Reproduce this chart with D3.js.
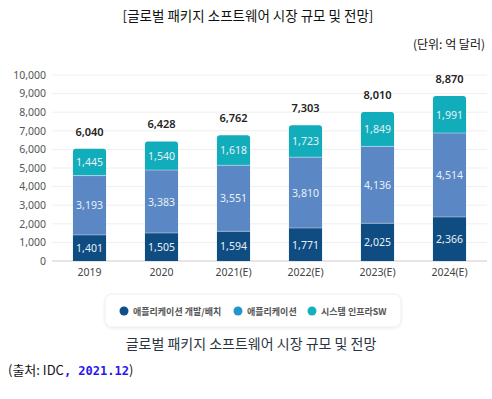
<!DOCTYPE html>
<html>
<head>
<meta charset="utf-8">
<script src="https://cdn.jsdelivr.net/npm/d3@7"></script>
<style>
  body { margin: 0; background: #fff; }
  svg text { font-family: "Noto Sans CJK KR", "Noto Sans", sans-serif; }
</style>
</head>
<body>
<div id="chart-area"></div>
<script>
// data
var years = ["2019", "2020", "2021(E)", "2022(E)", "2023(E)", "2024(E)"];
var appDev = [1401, 1505, 1594, 1771, 2025, 2366];
var apps = [3193, 3383, 3551, 3810, 4136, 4514];
var sysInfra = [1445, 1540, 1618, 1723, 1849, 1991];
var totals = [6040, 6428, 6762, 7303, 8010, 8870];
var seriesNames = ["애플리케이션 개발/배치", "애플리케이션", "시스템 인프라SW"];
var yTicks = [0, 1000, 2000, 3000, 4000, 5000, 6000, 7000, 8000, 9000, 10000];

var barColors = ["#0f4c81", "#5b88c4", "#12adbb"];
var legendColors = ["#0e4f89", "#2196c9", "#14b1bd"];

var W = 492, H = 399;
var svg = d3.select("#chart-area").append("svg")
    .attr("width", W).attr("height", H);

// titles
svg.append("text")
    .attr("x", 248).attr("y", 21)
    .attr("text-anchor", "middle")
    .attr("font-size", "13.5px")
    .attr("fill", "#111")
    .text("[글로벌 패키지 소프트웨어 시장 규모 및 전망]");

svg.append("text")
    .attr("x", 485).attr("y", 49)
    .attr("text-anchor", "end")
    .attr("font-size", "12px")
    .attr("fill", "#111")
    .text("(단위: 억 달러)");

// scales
var x = d3.scaleBand().domain(years).range([53.5, 485.5]).paddingInner(0.54).paddingOuter(0.27);
var y = d3.scaleLinear().domain([0, 10000]).range([261, 75]);

// grid
svg.append("g").selectAll("line")
    .data(yTicks.slice(1))
    .enter().append("line")
    .attr("x1", 52).attr("x2", 487)
    .attr("y1", function(d) { return y(d); })
    .attr("y2", function(d) { return y(d); })
    .attr("stroke", "#efefef");

// y axis
var yAxis = svg.append("g")
    .attr("transform", "translate(52,0)")
    .call(d3.axisLeft(y).tickValues(yTicks).tickSize(0).tickPadding(6).tickFormat(d3.format(",")));
yAxis.select(".domain").remove();
yAxis.selectAll("text").attr("font-size", "10.5px").attr("fill", "#555")
    .style("font-family", "'Noto Sans', sans-serif");

// baseline
svg.append("line")
    .attr("x1", 52).attr("x2", 487)
    .attr("y1", y(0)).attr("y2", y(0))
    .attr("stroke", "#ccc");

// x axis
var xAxis = svg.append("g")
    .attr("transform", "translate(0," + y(0) + ")")
    .call(d3.axisBottom(x).tickSize(0).tickPadding(8));
xAxis.select(".domain").remove();
xAxis.selectAll("text").attr("font-size", "10.5px").attr("fill", "#444")
    .style("font-family", "'Noto Sans', sans-serif");

// stacked data
var rows = years.map(function(yr, i) {
    return { year: yr, a: appDev[i], b: apps[i], c: sysInfra[i], total: totals[i] };
});
var stack = d3.stack().keys(["a", "b", "c"]);
var layers = stack(rows);

var r = 3;
function barPath(d, top) {
    var x0 = x(d.data.year), w = x.bandwidth();
    var y0 = y(d[0]), y1 = y(d[1]);
    if (!top) return "M" + x0 + "," + y0 + "V" + y1 + "H" + (x0 + w) + "V" + y0 + "Z";
    return "M" + x0 + "," + y0 + "V" + (y1 + r) + "Q" + x0 + "," + y1 + " " + (x0 + r) + "," + y1 +
        "H" + (x0 + w - r) + "Q" + (x0 + w) + "," + y1 + " " + (x0 + w) + "," + (y1 + r) +
        "V" + y0 + "Z";
}

layers.forEach(function(layer, li) {
    var g = svg.append("g");
    g.selectAll("path")
        .data(layer)
        .enter().append("path")
        .attr("d", function(d) { return barPath(d, li === 2); })
        .attr("fill", barColors[li]);
    g.selectAll("text")
        .data(layer)
        .enter().append("text")
        .attr("x", function(d) { return x(d.data.year) + x.bandwidth() / 2; })
        .attr("y", function(d) { return (y(d[0]) + y(d[1])) / 2 + 4; })
        .attr("text-anchor", "middle")
        .attr("font-size", "10.5px")
        .attr("fill", "#e8f0f8")
        .style("font-family", "'Noto Sans', sans-serif")
        .text(function(d) { return d3.format(",")(d[1] - d[0]); });
    // thin separator
    if (li > 0) {
        g.selectAll("line")
            .data(layer)
            .enter().append("line")
            .attr("x1", function(d) { return x(d.data.year); })
            .attr("x2", function(d) { return x(d.data.year) + x.bandwidth(); })
            .attr("y1", function(d) { return y(d[0]); })
            .attr("y2", function(d) { return y(d[0]); })
            .attr("stroke", "#fff").attr("stroke-opacity", 0.5).attr("stroke-width", 0.8);
    }
});

// totals
svg.append("g").selectAll("text")
    .data(rows)
    .enter().append("text")
    .attr("x", function(d) { return x(d.year) + x.bandwidth() / 2; })
    .attr("y", function(d) { return y(d.total) - 13; })
    .attr("text-anchor", "middle")
    .attr("font-size", "11px")
    .attr("font-weight", 600)
    .attr("fill", "#222")
    .style("font-family", "'Noto Sans', sans-serif")
    .text(function(d) { return d3.format(",")(d.total); });

// legend box
var defs = svg.append("defs");
var f = defs.append("filter").attr("id", "sh").attr("x", "-10%").attr("y", "-30%").attr("width", "120%").attr("height", "160%");
f.append("feDropShadow").attr("dx", 0).attr("dy", 1).attr("stdDeviation", 1.5).attr("flood-color", "#000").attr("flood-opacity", 0.08);

svg.append("rect")
    .attr("x", 105).attr("y", 294).attr("width", 296).attr("height", 33)
    .attr("rx", 7)
    .attr("fill", "#fff").attr("stroke", "#eee")
    .attr("filter", "url(#sh)");

var legendX = [124, 238, 312];
var lg = svg.append("g").selectAll("g")
    .data(seriesNames)
    .enter().append("g")
    .attr("transform", function(d, i) { return "translate(" + legendX[i] + ",311)"; });
lg.append("circle").attr("r", 4.5).attr("fill", function(d, i) { return legendColors[i]; });
lg.append("text")
    .attr("x", 9).attr("y", 3.5)
    .attr("font-size", "9px")
    .attr("font-weight", "bold")
    .attr("fill", "#555")
    .text(function(d) { return d; });

// caption
svg.append("text")
    .attr("x", 251).attr("y", 349)
    .attr("text-anchor", "middle")
    .attr("font-size", "14px")
    .attr("fill", "#2b3440")
    .text("글로벌 패키지 소프트웨어 시장 규모 및 전망");

// source
var src = svg.append("text")
    .attr("x", 8).attr("y", 375)
    .attr("font-size", "13px")
    .attr("fill", "#111");
src.append("tspan").text("(출처: IDC");
src.append("tspan")
    .attr("fill", "#2a14f0")
    .attr("font-weight", "bold")
    .style("font-family", "'DejaVu Sans Mono', monospace")
    .attr("font-size", "12px")
    .text(", 2021.12");
src.append("tspan").text(")");
</script>
</body>
</html>
